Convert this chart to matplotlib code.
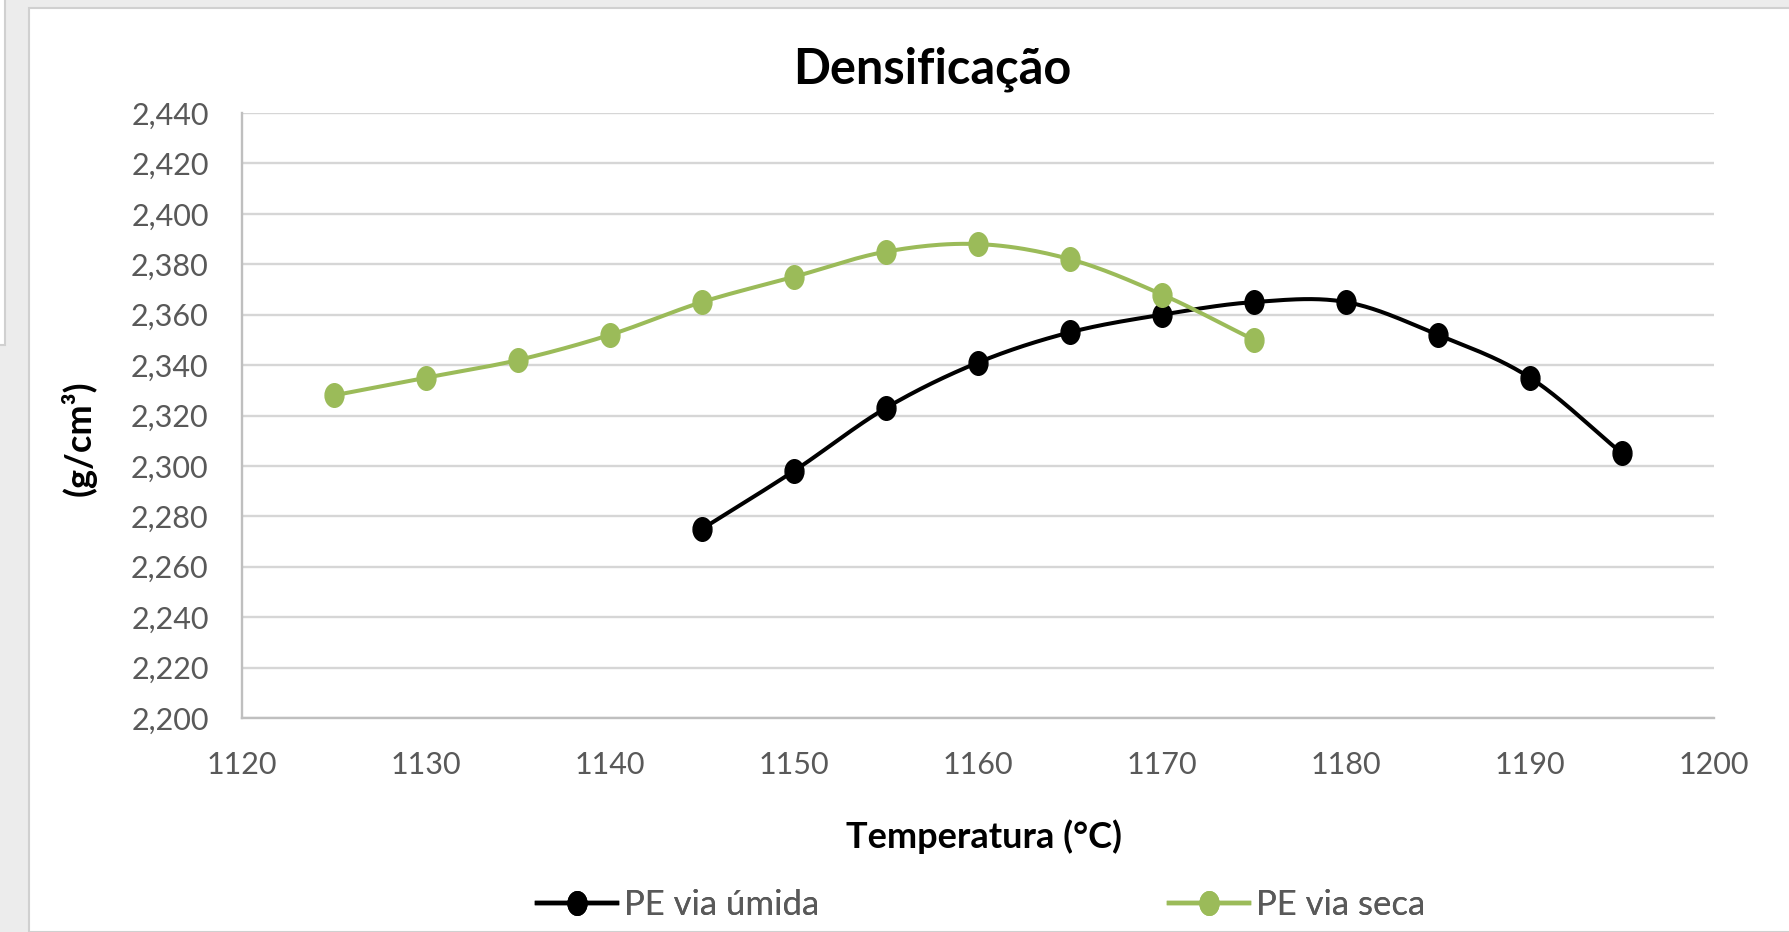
import numpy as np
import matplotlib
matplotlib.use("Agg")
import matplotlib.pyplot as plt
from matplotlib.path import Path
from matplotlib.patches import Rectangle
from matplotlib.transforms import Affine2D
from matplotlib.ticker import FuncFormatter
from matplotlib.lines import Line2D

plt.rcParams['font.family'] = ['Lato', 'DejaVu Sans']

# data
temp_umida = [1145, 1150, 1155, 1160, 1165, 1170, 1175, 1180, 1185, 1190, 1195]
dens_umida = [2.275, 2.298, 2.323, 2.341, 2.353, 2.360, 2.365, 2.365, 2.352, 2.335, 2.305]

temp_seca = [1125, 1130, 1135, 1140, 1145, 1150, 1155, 1160, 1165, 1170, 1175]
dens_seca = [2.328, 2.335, 2.342, 2.352, 2.365, 2.375, 2.385, 2.388, 2.382, 2.368, 2.350]

x_ticks = [1120, 1130, 1140, 1150, 1160, 1170, 1180, 1190, 1200]
y_ticks = [2.200, 2.220, 2.240, 2.260, 2.280, 2.300, 2.320, 2.340, 2.360, 2.380, 2.400, 2.420, 2.440]

W, H = 1790, 932


def smooth(xs, ys, n=24):
    # catmull-rom through the points, like excel's smoothed line
    x = np.asarray(xs, float)
    y = np.asarray(ys, float)
    px = np.concatenate([[2 * x[0] - x[1]], x, [2 * x[-1] - x[-2]]])
    py = np.concatenate([[2 * y[0] - y[1]], y, [2 * y[-1] - y[-2]]])
    outx, outy = [], []
    t = np.linspace(0, 1, n, endpoint=False)
    for i in range(1, len(px) - 2):
        for p, out in ((px, outx), (py, outy)):
            p0, p1, p2, p3 = p[i - 1], p[i], p[i + 1], p[i + 2]
            out.extend(0.5 * ((2 * p1) + (-p0 + p2) * t
                              + (2 * p0 - 5 * p1 + 4 * p2 - p3) * t ** 2
                              + (-p0 + 3 * p1 - 3 * p2 + p3) * t ** 3))
    outx.append(x[-1])
    outy.append(y[-1])
    return outx, outy


# slightly tall ellipse marker
ellipse = Path.unit_circle().transformed(Affine2D().scale(0.8, 1.0))

fig = plt.figure(figsize=(W / 100, H / 100), dpi=100, facecolor='#ececec')

# white chart area with its border
fig.patches.append(Rectangle((29 / W, 0), 1 - 29 / W + 0.01, 1 - 8 / H,
                             transform=fig.transFigure, facecolor='white',
                             edgecolor='#d0d0d0', linewidth=1.5, zorder=-10))
# panel edge at the top left
fig.patches.append(Rectangle((-0.01, 1 - 345 / H), 0.01 + 5 / W, 345 / H + 0.01,
                             transform=fig.transFigure, facecolor='white',
                             edgecolor='#d0d0d0', linewidth=1.5, zorder=-10))

ax = fig.add_axes([242 / W, 1 - 718 / H, (1714 - 242) / W, (718 - 113) / H])
ax.set_facecolor('none')

sx, sy = smooth(temp_umida, dens_umida)
ax.plot(sx, sy, color='black', lw=2.9, zorder=3, solid_capstyle='round')
ax.plot(temp_umida, dens_umida, color='black', marker=ellipse,
        markersize=17, linestyle='none', zorder=4)

sx, sy = smooth(temp_seca, dens_seca)
ax.plot(sx, sy, color='#9bbb59', lw=2.9, zorder=3, solid_capstyle='round')
ax.plot(temp_seca, dens_seca, color='#9bbb59', marker=ellipse,
        markersize=17, linestyle='none', zorder=4)

ax.set_xlim(1120, 1200)
ax.set_ylim(2.200, 2.440)
ax.set_xticks(x_ticks)
ax.set_yticks(y_ticks)
ax.yaxis.set_major_formatter(FuncFormatter(lambda v, p: f"{v:.3f}".replace('.', ',')))
ax.tick_params(length=0, labelsize=22, labelcolor='#595959')
ax.tick_params(axis='y', pad=24)
ax.tick_params(axis='x', pad=24)
ax.grid(axis='y', color='#d6d6d6', lw=1.7)
ax.set_axisbelow(True)
for s in ('top', 'right'):
    ax.spines[s].set_visible(False)
for s in ('left', 'bottom'):
    ax.spines[s].set_color('#bfbfbf')
    ax.spines[s].set_linewidth(1.7)

fig.text(932 / W, 1 - 69 / H, 'Densificação', ha='center', va='center',
         fontsize=35, fontweight='bold', color='black')
fig.text(984 / W, 1 - 837 / H, 'Temperatura (°C)', ha='center', va='center',
         fontsize=26, fontweight='bold', color='black')
fig.text(79 / W, 1 - 438 / H, '(g/cm³)', ha='center', va='center', rotation=90,
         fontsize=26, fontweight='bold', color='black')

# legend, two entries spread apart like excel does
leg_h1 = Line2D([], [], color='black', lw=3.2, marker=ellipse, markersize=17)
leg_h2 = Line2D([], [], color='#9bbb59', lw=3.2, marker=ellipse, markersize=17)
for handle, label, xpos in ((leg_h1, 'PE via úmida', 537), (leg_h2, 'PE via seca', 1169)):
    lg = fig.legend([handle], [label], loc='center left',
                    bbox_to_anchor=(xpos / W, 1 - 905 / H), frameon=False,
                    fontsize=25, handlelength=2.3, handletextpad=0.2,
                    borderpad=0, borderaxespad=0, labelcolor='#595959')
    fig.add_artist(lg)

fig.savefig('out.png', dpi=100, facecolor=fig.get_facecolor())
